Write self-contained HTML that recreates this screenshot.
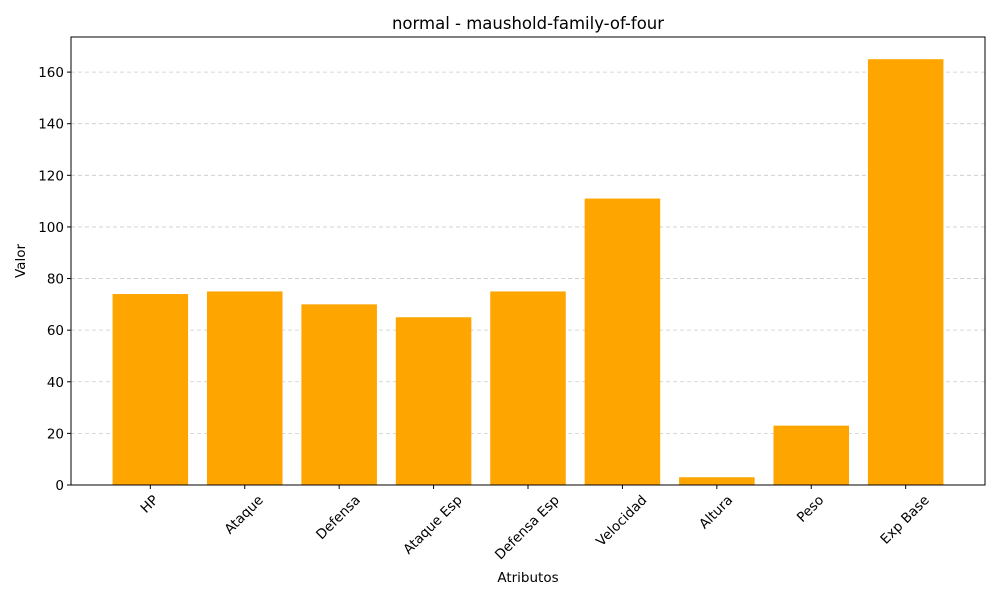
<!DOCTYPE html>
<html><head><meta charset="utf-8"><style>
body{margin:0;background:#fff;font-family:"DejaVu Sans","Liberation Sans",sans-serif}
</style></head><body>
<svg id="c" width="1000" height="600" xmlns="http://www.w3.org/2000/svg" font-family="DejaVu Sans, Liberation Sans, sans-serif"></svg>
<script>
const categories=["HP","Ataque","Defensa","Ataque Esp","Defensa Esp","Velocidad","Altura","Peso","Exp Base"];
const values=[74,75,70,65,75,111,3,23,165];
const yTicks=[0,20,40,60,80,100,120,140,160];
const L=71,R=985,T=37,B=485;
const ymax=173.6;
const xmin=-0.84,xmax=8.84;
const sx=v=>L+(v-xmin)/(xmax-xmin)*(R-L);
const sy=v=>B-v/ymax*(B-T);
const svg=document.getElementById('c');
const NS="http://www.w3.org/2000/svg";
function mk(t,a,txt){const e=document.createElementNS(NS,t);for(const k in a)e.setAttribute(k,a[k]);if(txt!=null)e.textContent=txt;svg.appendChild(e);return e;}
yTicks.forEach(v=>{
 const g=mk('line',{x1:L,x2:R,y1:sy(v),y2:sy(v),stroke:'#ccc','stroke-dasharray':'4,3','stroke-width':0.8});
 
 
 const tk=mk('line',{x1:L-4,x2:L,y1:sy(v),y2:sy(v),stroke:'#000'});
 
 
 const t=mk('text',{x:L-7,y:sy(v)+5,'text-anchor':'end','font-size':13.5},v);
 
 
});
categories.forEach((c,i)=>{
 const x0=sx(i-0.4),x1=sx(i+0.4);
 const b=mk('rect',{x:x0,y:sy(values[i]),width:x1-x0,height:B-sy(values[i]),fill:'#ffa500'});
 
 
 const cx=sx(i);
 const tk=mk('line',{x1:cx,x2:cx,y1:B,y2:B+4,stroke:'#000'});
 
 
 const t=mk('text',{x:0,y:0,'text-anchor':'middle','font-size':13.5},c);
 
 
 const w=t.getComputedTextLength(),h=13;
 const cy=B+8+(w+h)*0.7071/2;
 t.setAttribute('x',cx-1);
 t.setAttribute('y',cy+4.5);
 t.setAttribute('transform',`rotate(-45 ${cx-1} ${cy})`);
});
const fr=mk('rect',{x:L,y:T,width:R-L,height:B-T,fill:'none',stroke:'#000','stroke-width':1});


const ti=mk('text',{x:(L+R)/2,y:29,'text-anchor':'middle','font-size':16.5},'normal - maushold-family-of-four');


const xt=mk('text',{x:(L+R)/2,y:582,'text-anchor':'middle','font-size':13.5},'Atributos');


const yt=mk('text',{x:25,y:(T+B)/2,'text-anchor':'middle','font-size':13.5,transform:`rotate(-90 25 ${(T+B)/2})`},'Valor');


</script>
</body></html>
